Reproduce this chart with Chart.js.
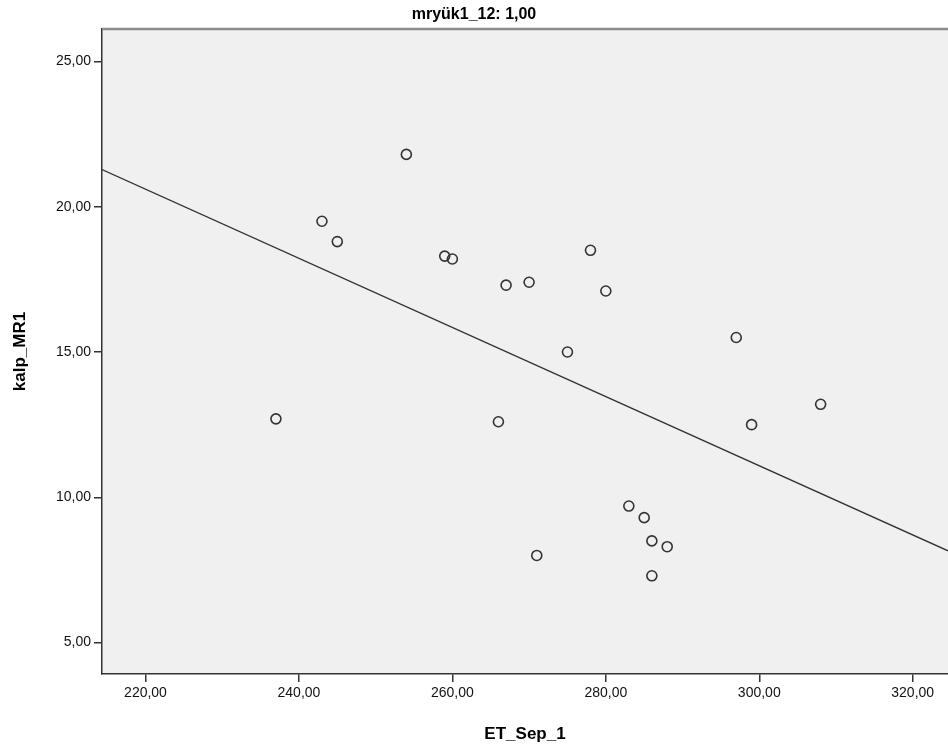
<!DOCTYPE html>
<html>
<head>
<meta charset="utf-8">
<script src="https://cdn.jsdelivr.net/npm/chart.js@4.4.1/dist/chart.umd.min.js"></script>
<style>
  body { margin: 0; background: #fff; }
</style>
</head>
<body>
<canvas id="myChart" width="948" height="753"></canvas>
<script>
// scatter values
var etSep = [254, 243, 245, 259, 260, 267, 270, 278, 280, 275, 237, 266, 283, 285, 286, 288, 271, 286, 297, 299, 308];
var kalpMR = [21.8, 19.5, 18.8, 18.3, 18.2, 17.3, 17.4, 18.5, 17.1, 15.0, 12.7, 12.6, 9.7, 9.3, 8.5, 8.3, 8.0, 7.3, 15.5, 12.5, 13.2];

// fit line end points (at the plot edges)
var fitX = [214.33, 324.6];
var fitY = [21.28, 8.16];

var xTicks = [220, 240, 260, 280, 300, 320];
var yTicks = [5, 10, 15, 20, 25];

var comma = function (v) { return Number(v).toFixed(2).replace('.', ','); };

var plotBg = {
    id: 'plotBg',
    beforeDraw: function (chart) {
        var a = chart.chartArea, c = chart.ctx;
        c.save();
        c.fillStyle = '#f0f0f0';
        c.fillRect(a.left, a.top, a.right - a.left, a.bottom - a.top);
        c.restore();
    },
    afterDraw: function (chart) {
        var a = chart.chartArea, c = chart.ctx;
        c.save();
        c.strokeStyle = '#8c8c8c';
        c.lineWidth = 2.5;
        c.beginPath();
        c.moveTo(a.left, a.top);
        c.lineTo(a.right, a.top);
        c.stroke();
        c.restore();
    }
};

var ctx = document.getElementById('myChart').getContext('2d');
var chart = new Chart(ctx, {
    type: 'scatter',
    data: {
        datasets: [{
            data: etSep.map(function (x, i) { return { x: x, y: kalpMR[i] }; }),
            pointStyle: 'circle',
            pointRadius: 5,
            pointBorderWidth: 1.6,
            borderColor: '#333',
            backgroundColor: 'rgba(0,0,0,0)'
        },
        {
            type: 'line',
            data: fitX.map(function (x, i) { return { x: x, y: fitY[i] }; }),
            borderColor: '#333',
            borderWidth: 1.3,
            pointRadius: 0,
            fill: false
        }]
    },
    options: {
        responsive: false,
        animation: false,
        layout: { autoPadding: false, padding: 0 },
        plugins: {
            legend: { display: false },
            tooltip: { enabled: false },
            title: {
                display: true,
                text: 'mryük1_12: 1,00',
                color: '#000',
                font: { family: 'Liberation Sans', size: 16, weight: 'bold' },
                padding: { top: 5, bottom: 4.8 }
            }
        },
        scales: {
            x: {
                type: 'linear',
                min: 214.33,
                max: 324.6,
                afterBuildTicks: function (s) { s.ticks = xTicks.map(function (v) { return { value: v }; }); },
                afterFit: function (s) { s.height = 79; s.paddingLeft = 0; s.paddingRight = 0; },
                grid: { drawOnChartArea: false, drawTicks: true, tickLength: 8, color: '#333', lineWidth: 1.5 },
                border: { display: true, color: '#333', width: 1.5 },
                ticks: {
                    color: '#111',
                    padding: 3,
                    maxRotation: 0,
                    font: { family: 'Liberation Sans', size: 14 },
                    callback: comma
                },
                title: {
                    display: true,
                    text: 'ET_Sep_1',
                    color: '#000',
                    font: { family: 'Liberation Sans', size: 17, weight: 'bold' },
                    padding: { top: 0, bottom: 8 }
                }
            },
            y: {
                type: 'linear',
                min: 3.92,
                max: 26.115,
                afterBuildTicks: function (s) { s.ticks = yTicks.map(function (v) { return { value: v }; }); },
                afterFit: function (s) { s.width = 102; s.paddingTop = 0; s.paddingBottom = 0; },
                grid: { drawOnChartArea: false, drawTicks: true, tickLength: 8, color: '#333', lineWidth: 1.5 },
                border: { display: true, color: '#333', width: 1.5 },
                ticks: {
                    color: '#111',
                    padding: 3,
                    font: { family: 'Liberation Sans', size: 14 },
                    callback: comma
                },
                title: {
                    display: true,
                    text: 'kalp_MR1',
                    color: '#000',
                    font: { family: 'Liberation Sans', size: 17, weight: 'bold' },
                    padding: { top: 10, bottom: 0 }
                }
            }
        }
    },
    plugins: [plotBg]
});
</script>
</body>
</html>
